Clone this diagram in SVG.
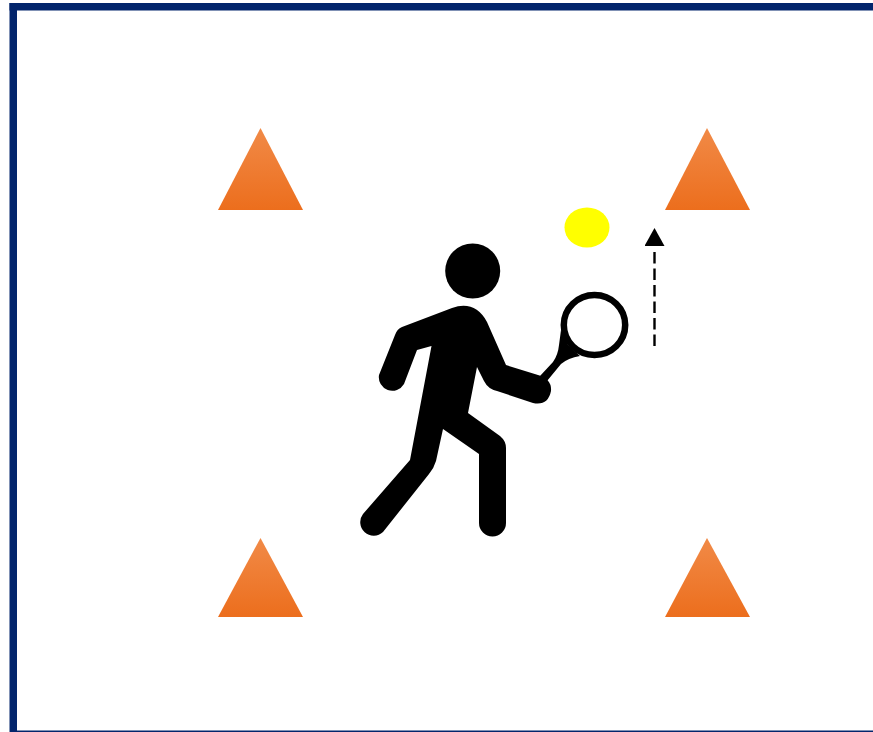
<svg xmlns="http://www.w3.org/2000/svg" width="873" height="732" viewBox="0 0 873 732">
<style>
.cone{fill:url(#coneFill)}
.ink{fill:#000}
.dash{fill:none;stroke:#000;stroke-width:2.400;stroke-dasharray:11.500 5}
</style>
<defs>
<linearGradient id="coneFill" x1="0" y1="0" x2="0" y2="1">
<stop offset="0" stop-color="#f18a47"/>
<stop offset="1" stop-color="#ec6e1d"/>
</linearGradient>
<marker id="arrow" markerUnits="userSpaceOnUse" markerWidth="18" markerHeight="20" refX="-6" refY="10" orient="auto" viewBox="0 0 18 20">
<path d="M18 10L0 0V20Z" fill="#000"/>
</marker>
</defs>
<rect width="873" height="732" fill="#fff"/>
<g id="frame">
<rect x="9.500" y="3" width="864" height="7.500" fill="#03256c"/>
<rect x="9.500" y="3" width="7.500" height="729" fill="#03256c"/>
<rect x="17" y="730.500" width="856" height="1.500" fill="#03256c"/>
</g>
<g id="cone-top-left"><path class="cone" d="M260.500 128L218 210H303Z"/></g>
<g id="cone-top-right"><path class="cone" d="M707 128L665 210H750Z"/></g>
<g id="cone-bottom-left"><path class="cone" d="M260.500 538L218 617H303Z"/></g>
<g id="cone-bottom-right"><path class="cone" d="M707 538L665 617H750Z"/></g>
<g id="ball"><ellipse cx="587" cy="227.500" rx="22.500" ry="20" fill="#ffff00"/></g>
<g id="player">
<circle class="ink" cx="472.700" cy="271" r="27.500"/>
<path class="ink" d="M402 327L452 308Q475 300 487 322L506 365L538 375Q552 379 551 391Q548 406 533 403L497 391Q488 389 484 381L477 367L468 413L500 436Q506 441 506 448V523A13.500 13.500 0 0 1 479 523V454L443 429L436 461Q434 468 429 474L383 532A13.500 13.500 0 0 1 363 514L410 460L431.500 346L417 350L404 384A13.500 13.500 0 0 1 379 375L395 335Q397 329 402 327Z"/>
<ellipse cx="594.500" cy="325" rx="30.700" ry="30" fill="none" stroke="#000" stroke-width="6.500"/>
<path class="ink" d="M540 376L553 362Q558 355 559 345L561 330L568 345L580 356Q568 358 561 364L547 381Z"/>
</g>
<g id="connectors">
<path class="dash" d="M654.500 346V252" marker-end="url(#arrow)"/>
</g>
</svg>
